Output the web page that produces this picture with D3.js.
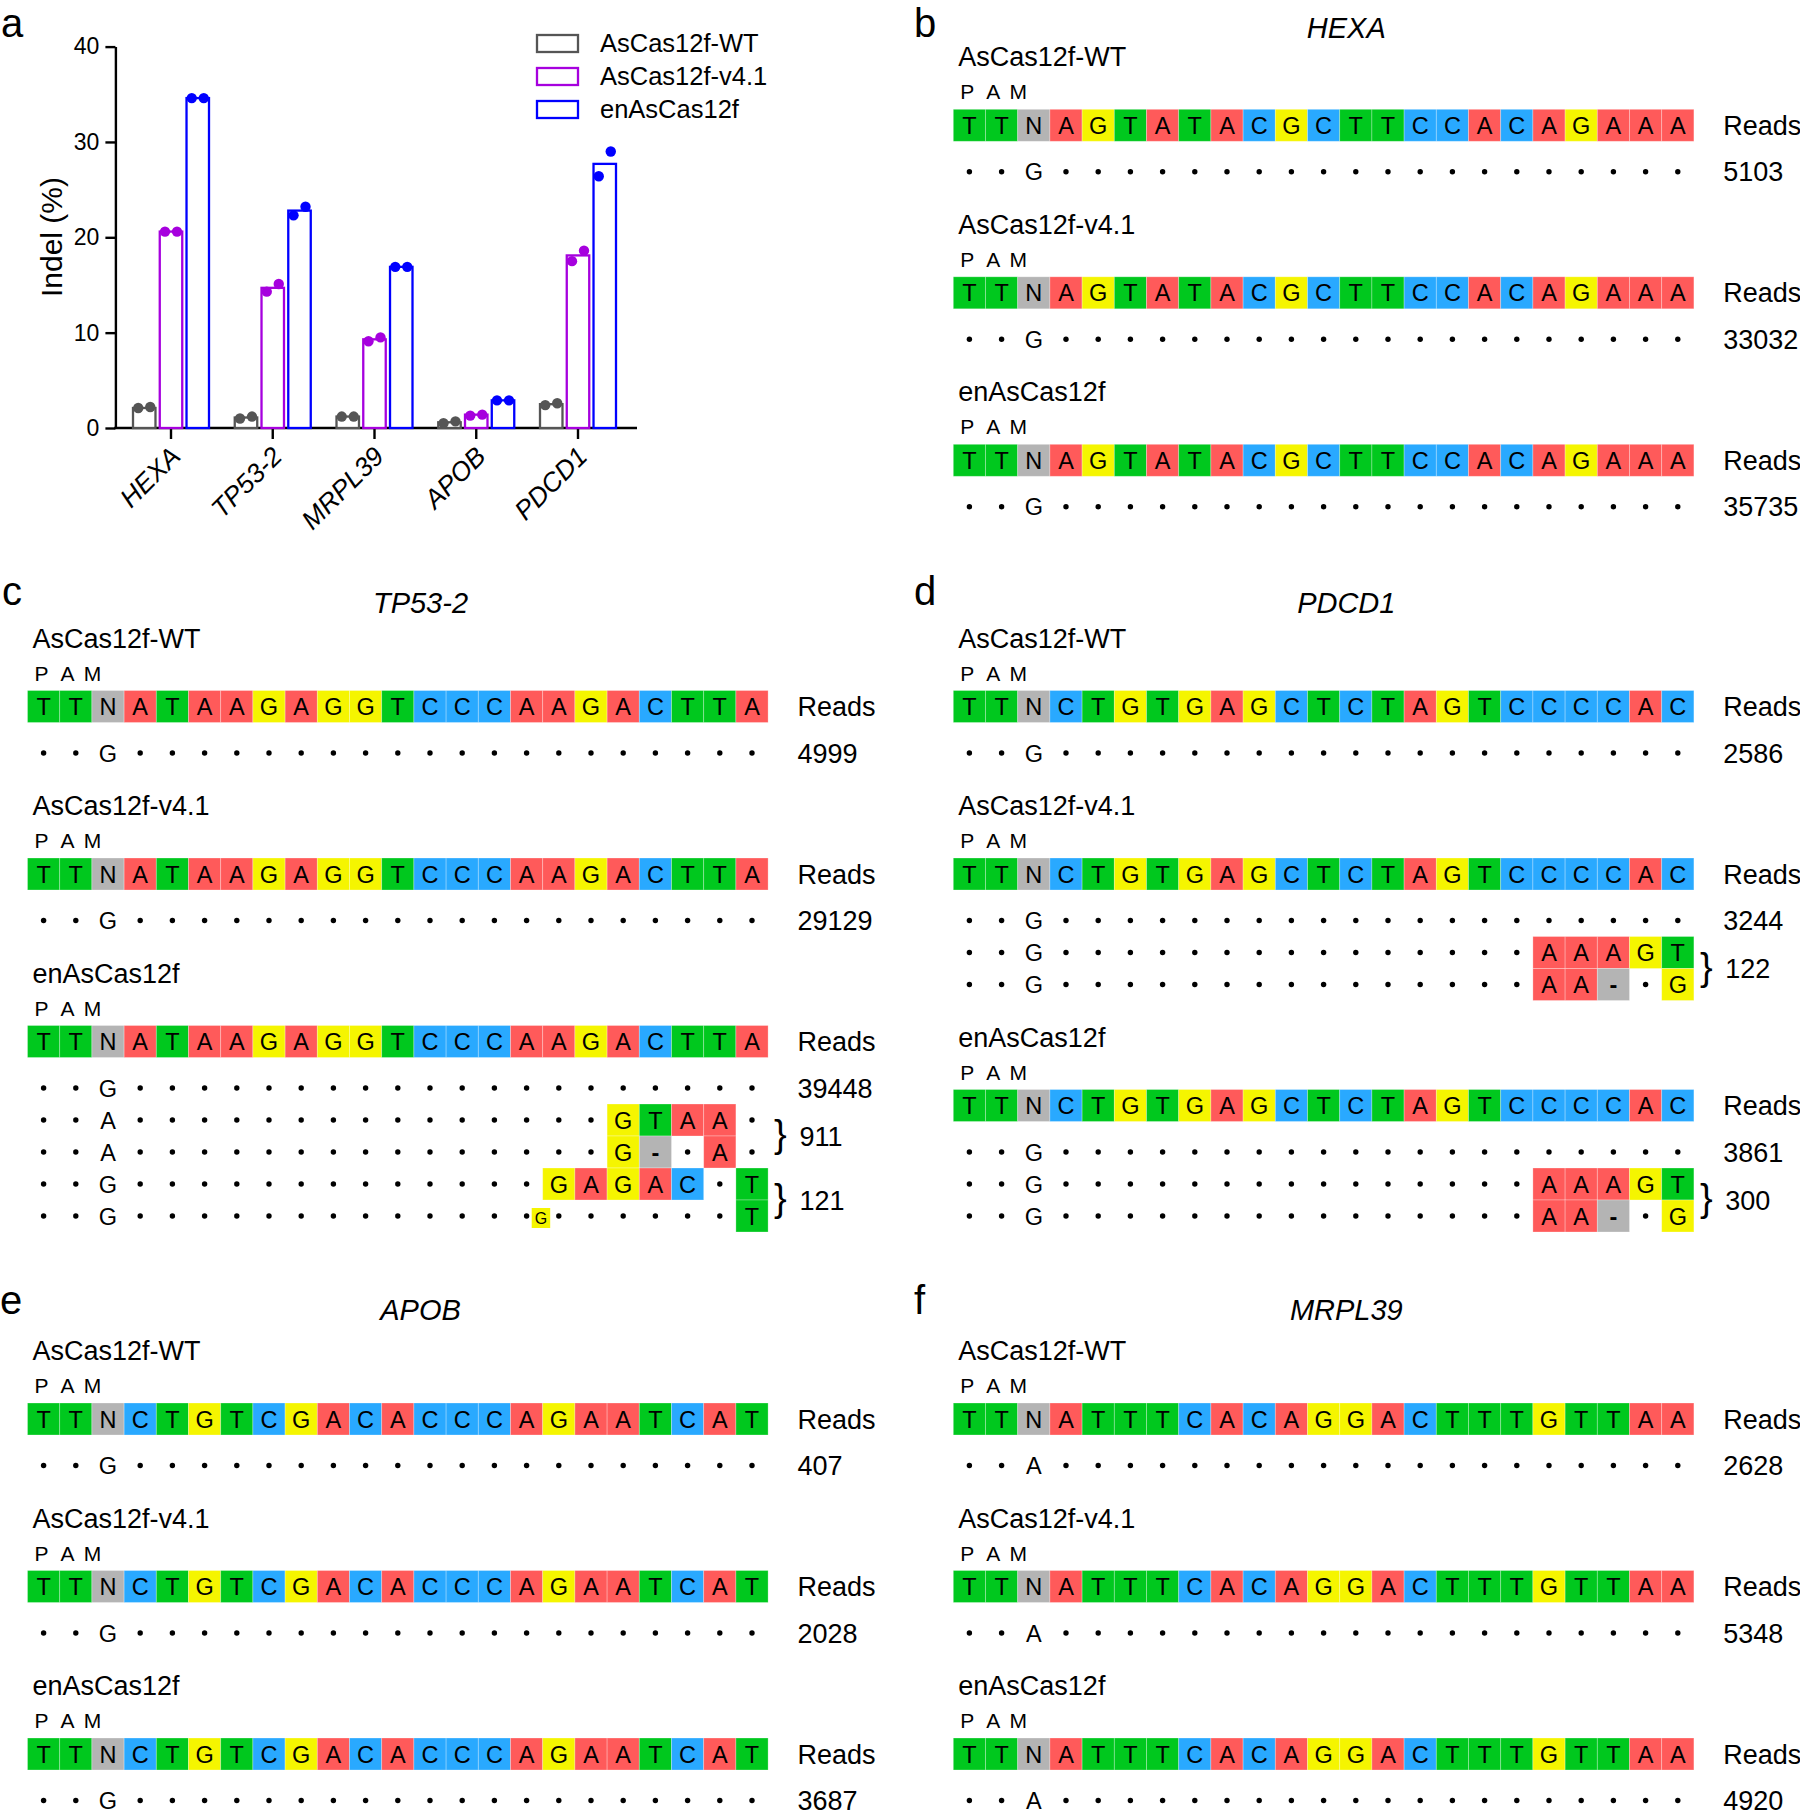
<!DOCTYPE html>
<html>
<head>
<meta charset="utf-8">
<script src="https://cdn.jsdelivr.net/npm/d3@7"></script>
<style>
  body { margin: 0; background: #fff; }
  svg { display: block; font-family: 'Liberation Sans', Arial, sans-serif; }
</style>
</head>
<body>
<div id="chart"></div>
<script>
// ---------- data, panel a ----------
var genes = ['HEXA', 'TP53-2', 'MRPL39', 'APOB', 'PDCD1'];
var editors = ['AsCas12f-WT', 'AsCas12f-v4.1', 'enAsCas12f'];
var editorColors = ['#555555', '#a600de', '#0000ff'];
var yTicks = [0, 10, 20, 30, 40];

var wtMean = [2.1, 1.1, 1.2, 0.6, 2.5];
var v41Mean = [20.6, 14.7, 9.3, 1.4, 18.1];
var enMean = [34.6, 22.8, 16.9, 2.9, 27.7];
var wtReps = [[2.1, 2.2], [1.0, 1.2], [1.2, 1.2], [0.5, 0.7], [2.4, 2.6]];
var v41Reps = [[20.6, 20.6], [14.3, 15.1], [9.1, 9.5], [1.3, 1.4], [17.5, 18.6]];
var enReps = [[34.6, 34.6], [22.3, 23.2], [16.9, 16.9], [2.9, 2.9], [26.4, 29.0]];

// ---------- data, panels b-f ----------
// '.' = same as reference, lowercase = plain letter, uppercase = coloured base, '-' = deletion
var hexaRef = 'TTNAGTATACGCTTCCACAGAAA';
var hexaRows = [['..g....................'], ['..g....................'], ['..g....................']];
var hexaReads = [[5103], [33032], [35735]];

var tp53Ref = 'TTNATAAGAGGTCCCAAGACTTA';
var tp53Rows = [
    ['..g....................'],
    ['..g....................'],
    ['..g....................',
     '..a...............GTAA.',
     '..a...............G-.A.',
     '..g.............GAGAC.T',
     '..g...................T']
];
var tp53Reads = [[4999], [29129], [39448, 911, 121]];
var tp53Insert = [2, 4, 16, 'G']; // editor, row, before column, base

var pdcd1Ref = 'TTNCTGTGAGCTCTAGTCCCCAC';
var pdcd1Rows = [
    ['..g....................'],
    ['..g....................',
     '..g...............AAAGT',
     '..g...............AA-.G'],
    ['..g....................',
     '..g...............AAAGT',
     '..g...............AA-.G']
];
var pdcd1Reads = [[2586], [3244, 122], [3861, 300]];

var apobRef = 'TTNCTGTCGACACCCAGAATCAT';
var apobRows = [['..g....................'], ['..g....................'], ['..g....................']];
var apobReads = [[407], [2028], [3687]];

var mrplRef = 'TTNATTTCACAGGACTTTGTTAA';
var mrplRows = [['..a....................'], ['..a....................'], ['..a....................']];
var mrplReads = [[2628], [5348], [4920]];

var bases = ['A', 'C', 'G', 'T', 'N', '-'];
var baseColors = ['#ff5a5a', '#29a9ff', '#f5f500', '#00c81e', '#b4b4b4', '#b4b4b4'];

// ---------- svg ----------
var svg = d3.select('#chart')
    .append('svg')
    .attr('width', 1800)
    .attr('height', 1816);

// panel letters
var panelLetters = [['a', 1, 37], ['b', 914, 37], ['c', 2, 605], ['d', 914, 605], ['e', 0, 1314], ['f', 914, 1314]];
panelLetters.forEach((p) => {
    svg.append('text')
        .attr('x', p[1])
        .attr('y', p[2])
        .attr('font-size', 40)
        .text(p[0]);
});

// ---------- panel a ----------
var yScale = d3.scaleLinear().domain([0, 40]).range([428, 46.6]);
var xScale = d3.scalePoint().domain(genes).range([171, 578]);
var xSub = d3.scaleBand().domain(editors).range([-38, 38]).paddingInner(0.16);

var chartA = svg.append('g');

var leftAxis = d3.axisLeft(yScale)
    .tickValues(yTicks)
    .tickSize(10)
    .tickSizeOuter(0)
    .tickPadding(6);

var yAxisG = chartA.append('g')
    .attr('transform', 'translate(115.4, 0)')
    .call(leftAxis);
yAxisG.selectAll('path, line').attr('stroke', '#000').attr('stroke-width', 2.4);
yAxisG.selectAll('text')
    .attr('font-size', 23)
    .attr('font-family', "'Liberation Sans', Arial, sans-serif")
    .attr('fill', '#000');

// x axis line
chartA.append('line')
    .attr('x1', 114.2).attr('x2', 637)
    .attr('y1', yScale(0)).attr('y2', yScale(0))
    .attr('stroke', '#000').attr('stroke-width', 2.4);

chartA.selectAll('.xtick')
    .data(genes)
    .enter()
    .append('line')
    .attr('x1', (d) => xScale(d)).attr('x2', (d) => xScale(d))
    .attr('y1', yScale(0)).attr('y2', yScale(0) + 11)
    .attr('stroke', '#000').attr('stroke-width', 2.4);

chartA.selectAll('.xlabel')
    .data(genes)
    .enter()
    .append('text')
    .attr('transform', (d) => `translate(${xScale(d) + 11}, 458) rotate(-45)`)
    .attr('text-anchor', 'end')
    .attr('font-size', 26.5)
    .attr('font-style', 'italic')
    .text((d) => d);

chartA.append('text')
    .attr('transform', 'translate(62, 237) rotate(-90)')
    .attr('text-anchor', 'middle')
    .attr('font-size', 30)
    .text('Indel (%)');

var means = [wtMean, v41Mean, enMean];
var reps = [wtReps, v41Reps, enReps];

editors.forEach((ed, si) => {
    var bars = genes.map((gname, gi) => ({ gene: gname, value: means[si][gi], reps: reps[si][gi] }));

    chartA.selectAll('.bar' + si)
        .data(bars)
        .enter()
        .append('rect')
        .attr('x', (d) => xScale(d.gene) + xSub(ed))
        .attr('y', (d) => yScale(d.value))
        .attr('width', xSub.bandwidth())
        .attr('height', (d) => yScale(0) - yScale(d.value))
        .attr('fill', '#fff')
        .attr('stroke', editorColors[si])
        .attr('stroke-width', 2.3);

    var dots = [];
    bars.forEach((d) => {
        d.reps.forEach((v, k) => dots.push({ gene: d.gene, value: v, k: k }));
    });

    chartA.selectAll('.dot' + si)
        .data(dots)
        .enter()
        .append('circle')
        .attr('cx', (d) => xScale(d.gene) + xSub(ed) + xSub.bandwidth() / 2 + (d.k === 0 ? -6 : 6))
        .attr('cy', (d) => yScale(d.value))
        .attr('r', 5.2)
        .attr('fill', editorColors[si]);
});

// legend
var legend = chartA.append('g');
editors.forEach((ed, i) => {
    legend.append('rect')
        .attr('x', 537)
        .attr('y', 35 + i * 33)
        .attr('width', 41)
        .attr('height', 17)
        .attr('fill', '#fff')
        .attr('stroke', editorColors[i])
        .attr('stroke-width', 2.3);
    legend.append('text')
        .attr('x', 600)
        .attr('y', 35 + i * 33 + 17)
        .attr('font-size', 25.5)
        .text(ed);
});

// ---------- panels b-f ----------
var baseColor = d3.scaleOrdinal().domain(bases).range(baseColors);
var cellW = 32.2;
var cellH = 32;

function drawSeqPanel(opts) {
    var g = svg.append('g');
    var col = d3.scaleBand()
        .domain(d3.range(opts.ref.length))
        .range([opts.x0, opts.x0 + opts.ref.length * cellW]);
    var readsX = opts.x0 + 770;
    var right = opts.x0 + opts.ref.length * cellW;

    g.append('text')
        .attr('x', opts.x0 + 393)
        .attr('y', opts.titleY)
        .attr('text-anchor', 'middle')
        .attr('font-size', 29)
        .attr('font-style', 'italic')
        .text(opts.gene);

    var top = opts.top;
    editors.forEach((ed, ei) => {
        g.append('text')
            .attr('x', opts.x0 + 5)
            .attr('y', top - 43)
            .attr('font-size', 27)
            .text(ed);

        ['P', 'A', 'M'].forEach((ch, k) => {
            g.append('text')
                .attr('x', opts.x0 + [14, 40, 65][k])
                .attr('y', top - 10)
                .attr('text-anchor', 'middle')
                .attr('font-size', 21)
                .text(ch);
        });

        // reference row
        var refData = opts.ref.split('').map((b, j) => ({ b: b, j: j }));
        g.selectAll(null)
            .data(refData)
            .enter()
            .append('rect')
            .attr('x', (d) => col(d.j))
            .attr('y', top)
            .attr('width', col.bandwidth())
            .attr('height', cellH)
            .attr('fill', (d) => baseColor(d.b))
            .attr('stroke', 'rgba(255,255,255,0.35)')
            .attr('stroke-width', 0.8);
        g.selectAll(null)
            .data(refData)
            .enter()
            .append('text')
            .attr('x', (d) => col(d.j) + col.bandwidth() / 2)
            .attr('y', top + cellH / 2 + 8.5)
            .attr('text-anchor', 'middle')
            .attr('font-size', 23.5)
            .text((d) => d.b);

        g.append('text')
            .attr('x', readsX)
            .attr('y', top + cellH / 2 + 9.5)
            .attr('font-size', 27)
            .text('Reads');

        // aligned reads
        var rows = opts.rows[ei];
        var rowY = (r) => top + 62.5 + r * cellH;
        rows.forEach((row, ri) => {
            var cy = rowY(ri);
            var cells = row.split('').map((c, j) => ({ c: c, j: j }));

            g.selectAll(null)
                .data(cells.filter((d) => d.c === '-' || /[ACGTN]/.test(d.c)))
                .enter()
                .append('rect')
                .attr('x', (d) => col(d.j))
                .attr('y', cy - cellH / 2)
                .attr('width', col.bandwidth())
                .attr('height', cellH)
                .attr('fill', (d) => baseColor(d.c))
                .attr('stroke', 'rgba(255,255,255,0.35)')
                .attr('stroke-width', 0.8);

            g.selectAll(null)
                .data(cells.filter((d) => d.c === '.'))
                .enter()
                .append('circle')
                .attr('cx', (d) => col(d.j) + col.bandwidth() / 2)
                .attr('cy', cy)
                .attr('r', 2.7)
                .attr('fill', '#000');

            g.selectAll(null)
                .data(cells.filter((d) => d.c !== '.'))
                .enter()
                .append('text')
                .attr('x', (d) => col(d.j) + col.bandwidth() / 2)
                .attr('y', cy + 8.5)
                .attr('text-anchor', 'middle')
                .attr('font-size', 23.5)
                .attr('font-weight', (d) => d.c === '-' ? 'bold' : 'normal')
                .text((d) => d.c.toUpperCase());
        });

        // small inserted base
        if (opts.insert && opts.insert[0] === ei) {
            var ix = col(opts.insert[2]);
            var iy = rowY(opts.insert[1]);
            g.append('rect')
                .attr('x', ix - 11)
                .attr('y', iy - 8)
                .attr('width', 18.5)
                .attr('height', 20)
                .attr('fill', baseColor(opts.insert[3]));
            g.append('text')
                .attr('x', ix - 1.8)
                .attr('y', iy + 7.5)
                .attr('text-anchor', 'middle')
                .attr('font-size', 16)
                .text(opts.insert[3]);
        }

        // read counts: first for row 0, then one per pair of rows
        opts.reads[ei].forEach((n, k) => {
            if (k === 0) {
                g.append('text')
                    .attr('x', readsX)
                    .attr('y', rowY(0) + 9.5)
                    .attr('font-size', 27)
                    .text(n);
            } else {
                var mid = (rowY(2 * k - 1) + rowY(2 * k)) / 2;
                g.append('text')
                    .attr('x', right + 6)
                    .attr('y', mid + 11)
                    .attr('font-size', 38)
                    .text('}');
                g.append('text')
                    .attr('x', readsX + 2)
                    .attr('y', mid + 9.5)
                    .attr('font-size', 27)
                    .text(n);
            }
        });

        top += 167.5 + cellH * (rows.length - 1);
    });
}

drawSeqPanel({ gene: 'HEXA', ref: hexaRef, rows: hexaRows, reads: hexaReads, x0: 953.3, top: 109.3, titleY: 38 });
drawSeqPanel({ gene: 'TP53-2', ref: tp53Ref, rows: tp53Rows, reads: tp53Reads, insert: tp53Insert, x0: 27.5, top: 690.5, titleY: 613 });
drawSeqPanel({ gene: 'PDCD1', ref: pdcd1Ref, rows: pdcd1Rows, reads: pdcd1Reads, x0: 953.3, top: 690.5, titleY: 613 });
drawSeqPanel({ gene: 'APOB', ref: apobRef, rows: apobRows, reads: apobReads, x0: 27.5, top: 1403, titleY: 1320 });
drawSeqPanel({ gene: 'MRPL39', ref: mrplRef, rows: mrplRows, reads: mrplReads, x0: 953.3, top: 1403, titleY: 1320 });
</script>
</body>
</html>
